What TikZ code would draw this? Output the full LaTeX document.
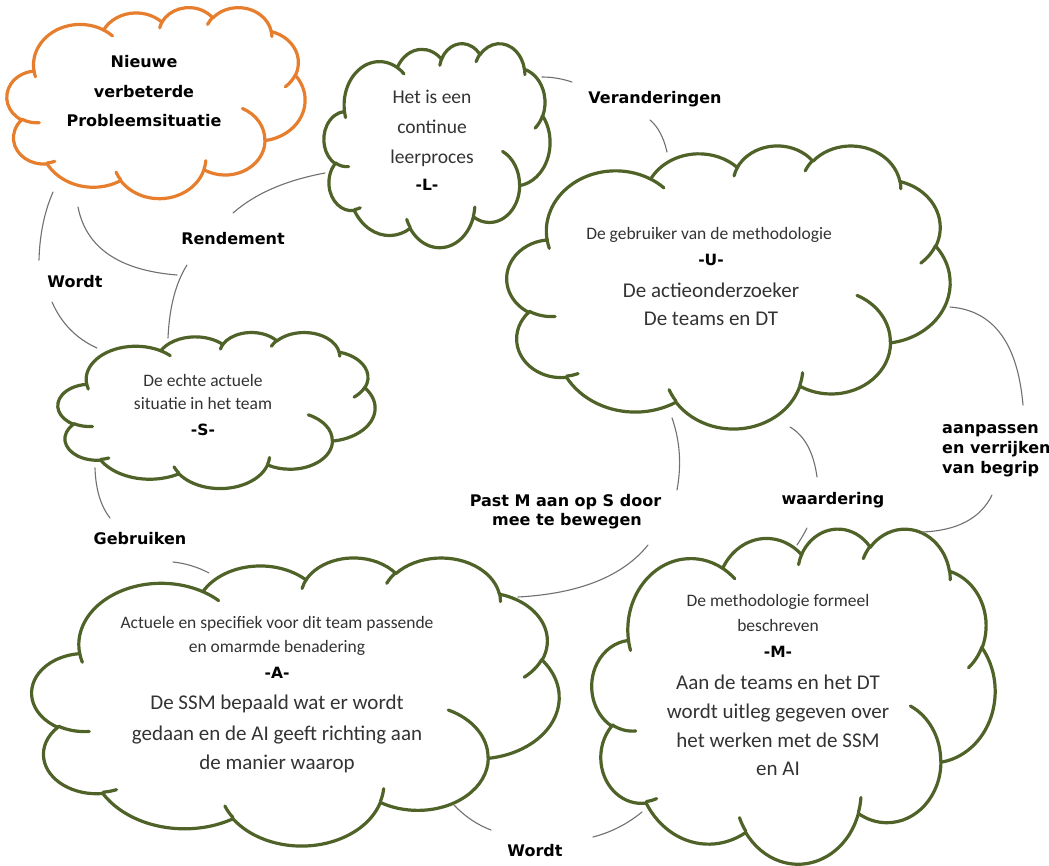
\documentclass[tikz,border=0pt]{standalone}
\usepackage{fontspec}
\setmainfont{Carlito}
\newfontfamily\labfont{DejaVu Sans}
\usetikzlibrary{calc}
\definecolor{cgreen}{HTML}{4F6228}
\definecolor{corange}{HTML}{E67E2D}
\definecolor{txtgray}{HTML}{333333}
\definecolor{linegray}{HTML}{707070}

% DrawingML-style arcTo: wR hR startAngle sweepAngle (visual angles, degrees)
\newcommand\wcArc[4]{%
  \pgfmathsetmacro\wcTs{atan2((#1)*sin(#3),(#2)*cos(#3))}%
  \pgfmathsetmacro\wcTe{atan2((#1)*sin((#3)+(#4)),(#2)*cos((#3)+(#4)))}%
  \pgfmathsetmacro\wcD{\wcTe-\wcTs}%
  \pgfmathsetmacro\wcD{ifthenelse(\wcD<0,\wcD+360,\wcD)}%
  \pgfmathsetmacro\wcTe{\wcTs+\wcD}%
  \pgfpatharc{\wcTs}{\wcTe}{#1pt and #2pt}%
}
\newcommand\wcMove[2]{\pgfpathmoveto{\pgfpoint{#1pt}{#2pt}}}
% cloud: x0 y0 w h colour
\newcommand\wordcloud[5]{%
\begin{scope}[shift={(#1,#2)}, xscale=#3/43.2, yscale=-#4/43.2]
  \wcMove{3.9}{14.37}%
  \wcArc{6.753}{9.190}{-190.4875}{123.7805}%
  \wcArc{5.333}{7.267}{-144.1024}{89.9452}%
  \wcArc{4.365}{5.945}{-145.8079}{99.7230}%
  \wcArc{4.857}{6.595}{-130.9861}{117.2417}%
  \wcArc{5.333}{7.273}{-78.7089}{109.0269}%
  \wcArc{6.775}{9.220}{-46.2673}{130.2690}%
  \wcArc{5.785}{7.867}{0.6250}{114.0333}%
  \wcArc{6.752}{9.215}{22.4516}{115.1726}%
  \wcArc{7.720}{10.543}{66.2426}{75.7110}%
  \wcArc{4.360}{5.918}{-274.9421}{146.7356}%
  \wcArc{4.345}{5.945}{-246.8285}{152.5189}%
  \pgfpathclose
  \pgfsetfillcolor{white}\pgfsetstrokecolor{#5}\pgfsetlinewidth{3.2pt}\pgfsetroundjoin
  \pgfusepath{fill,stroke}%
  \wcMove{4.693}{26.177}\wcArc{4.345}{5.945}{86.7420}{26.4295}%
  \wcMove{6.928}{34.899}\wcArc{4.360}{5.918}{73.6105}{11.4475}%
  \wcMove{16.478}{39.090}\wcArc{6.752}{9.215}{137.6242}{14.0811}%
  \wcMove{28.827}{34.751}\wcArc{6.752}{9.215}{6.4533}{15.9984}%
  \wcMove{34.129}{22.954}\wcArc{5.785}{7.867}{-70.2924}{70.9174}%
  \wcMove{41.798}{15.354}\wcArc{5.333}{7.273}{30.3180}{27.7515}%
  \wcMove{38.324}{5.426}\wcArc{4.857}{6.595}{-13.7443}{14.8589}%
  \wcMove{29.078}{3.952}\wcArc{4.857}{6.595}{-149.1815}{18.1954}%
  \wcMove{22.141}{4.720}\wcArc{4.365}{5.945}{-163.4943}{17.6864}%
  \wcMove{14.000}{5.192}\wcArc{6.753}{9.190}{-66.7070}{12.3194}%
  \wcMove{4.127}{15.789}\wcArc{6.753}{9.190}{157.6544}{11.8582}%
  \pgfsetstrokecolor{#5}\pgfsetlinewidth{3.2pt}\pgfsetroundcap
  \pgfusepath{stroke}%
\end{scope}}

\newcommand\fbig{\fontsize{21}{25}\selectfont}
\newcommand\fsmall{\fontsize{17.5}{21}\selectfont}
\newcommand\fmid{\fontsize{19.5}{23}\selectfont}
\newcommand\flab{\labfont\bfseries\fontsize{16}{19}\selectfont}
\newcommand\fmark{\labfont\bfseries\fontsize{15.5}{18}\selectfont}

\tikzset{
  ctext/.style={text=txtgray, inner sep=0pt, anchor=base},
  marktext/.style={text=black, inner sep=0pt, anchor=base, font=\fmark},
  lab/.style={text=black, inner sep=0pt, anchor=base, font=\flab},
  conn/.style={draw=linegray, line width=1.1pt, line cap=round},
}
\newcommand\qcurve[3]{\draw[conn] (#1) .. controls ($(#1)!.667!(#2)$) and ($(#3)!.667!(#2)$) .. (#3);}

\begin{document}
\begin{tikzpicture}[x=1pt,y=-1pt]
\fill[white] (0,0) rectangle (1049,865);
\useasboundingbox (0,0) rectangle (1049,865);

% clouds
\wordcloud{7}{7}{298}{191}{corange}
\wordcloud{507}{145}{443}{283}{cgreen}
\wordcloud{324}{43}{226}{204}{cgreen}
\wordcloud{58}{332}{317}{156}{cgreen}
\wordcloud{32}{557}{527}{288}{cgreen}
\wordcloud{592}{528}{403}{335}{cgreen}

% cloud texts
\node[lab] (o1) at (144,67.5) {Nieuwe};
\node[lab] (o2) at (144,97.5) {verbeterde};
\node[lab] (o3) at (144,126.5) {Probleemsituatie};

\node[ctext, font=\fmid] (l1) at (432,103) {Het is een};
\node[ctext, font=\fmid] (l2) at (432,133.5) {continue};
\node[ctext, font=\fmid] (l3) at (432,163) {leerproces};
\node[marktext] (l4) at (427,190.5) {-L-};

\node[ctext, font=\fsmall] (u1) at (709,239) {De gebruiker van de methodologie};
\node[marktext] (u2) at (711,265.5) {-U-};
\node[ctext, font=\fbig] (u3) at (711,297) {De actieonderzoeker};
\node[ctext, font=\fbig] (u4) at (711,325) {De teams en DT};

\node[ctext, font=\fsmall] (s1) at (203,386) {De echte actuele};
\node[ctext, font=\fsmall] (s2) at (203,409) {situatie in het team};
\node[marktext] (s3) at (203,435.5) {-S-};

\node[ctext, font=\fsmall] (a1) at (277,628) {Actuele en specifiek voor dit team passende};
\node[ctext, font=\fsmall] (a2) at (277,652.5) {en omarmde benadering};
\node[marktext] (a3) at (277,678.5) {-A-};
\node[ctext, font=\fbig] (a4) at (277,709) {De SSM bepaald wat er wordt};
\node[ctext, font=\fbig] (a5) at (277,740) {gedaan en de AI geeft richting aan};
\node[ctext, font=\fbig] (a6) at (277,769) {de manier waarop};

\node[ctext, font=\fsmall] (m1) at (778,606) {De methodologie formeel};
\node[ctext, font=\fsmall] (m2) at (778,631) {beschreven};
\node[marktext] (m3) at (778,657.5) {-M-};
\node[ctext, font=\fbig] (m4) at (778,689) {Aan de teams en het DT};
\node[ctext, font=\fbig] (m5) at (778,718) {wordt uitleg gegeven over};
\node[ctext, font=\fbig] (m6) at (778,747) {het werken met de SSM};
\node[ctext, font=\fbig] (m7) at (778,775) {en AI};

% connector labels
\node[lab] (wordt1) at (75,287.5) {Wordt};
\node[lab] (rend) at (233,244.5) {Rendement};
\node[lab] (veran) at (655,103.5) {Veranderingen};
\node[lab, anchor=base west] (aan1) at (942,433) {aanpassen};
\node[lab, anchor=base west] (aan2) at (942,453) {en verrijken};
\node[lab, anchor=base west] (aan3) at (942,473) {van begrip};
\node[lab] (waard) at (833,504) {waardering};
\node[lab] (past1) at (565.5,506) {Past M aan op S door};
\node[lab] (past2) at (567,525.5) {mee te bewegen};
\node[lab] (gebr) at (140,544.5) {Gebruiken};
\node[lab] (wordt2) at (535,856.5) {Wordt};

% connector end points
\coordinate (c1a) at (53,192);   \coordinate (c1b) at (39,260);
\coordinate (c2a) at (52,302);   \coordinate (c2b) at (97,348);
\coordinate (c3a) at (78,207);   \coordinate (c3b) at (177,275);
\coordinate (c4a) at (187,265);  \coordinate (c4b) at (168,338);
\coordinate (c5a) at (233,213);  \coordinate (c5b) at (325,173);
\coordinate (c6a) at (542,77);   \coordinate (c6b) at (572,82);
\coordinate (c7a) at (650,120);  \coordinate (c7b) at (667,152);
\coordinate (c8a) at (950,307);  \coordinate (c8b) at (1023,405);
\coordinate (c9a) at (992,495);  \coordinate (c9b) at (922,532);
\coordinate (c10a) at (672,418); \coordinate (c10b) at (677,490);
\coordinate (c11a) at (790,427); \coordinate (c11b) at (817,477);
\coordinate (c12a) at (807,528); \coordinate (c12b) at (797,545);
\coordinate (c13a) at (648,545); \coordinate (c13b) at (518,597);
\coordinate (c14a) at (173,562); \coordinate (c14b) at (209,573);
\coordinate (c15a) at (95,468);  \coordinate (c15b) at (110,518);
\coordinate (c16a) at (454,805); \coordinate (c16b) at (491,830);
\coordinate (c17a) at (642,812); \coordinate (c17b) at (593,837);

\qcurve{c1a}{40,222}{c1b}
\qcurve{c2a}{66,334}{c2b}
\qcurve{c3a}{90,268}{c3b}
\qcurve{c4a}{170,292}{c4b}
\qcurve{c5a}{266,184}{c5b}
\qcurve{c6a}{557,77}{c6b}
\qcurve{c7a}{662,130}{c7b}
\qcurve{c8a}{1015,312}{c8b}
\qcurve{c9a}{975,530}{c9b}
\qcurve{c10a}{684,452}{c10b}
\qcurve{c11a}{812,440}{c11b}
\qcurve{c12a}{803,536}{c12b}
\qcurve{c13a}{610,592}{c13b}
\qcurve{c14a}{192,564}{c14b}
\qcurve{c15a}{96,500}{c15b}
\qcurve{c16a}{470,822}{c16b}
\qcurve{c17a}{620,830}{c17b}
\end{tikzpicture}
\end{document}
